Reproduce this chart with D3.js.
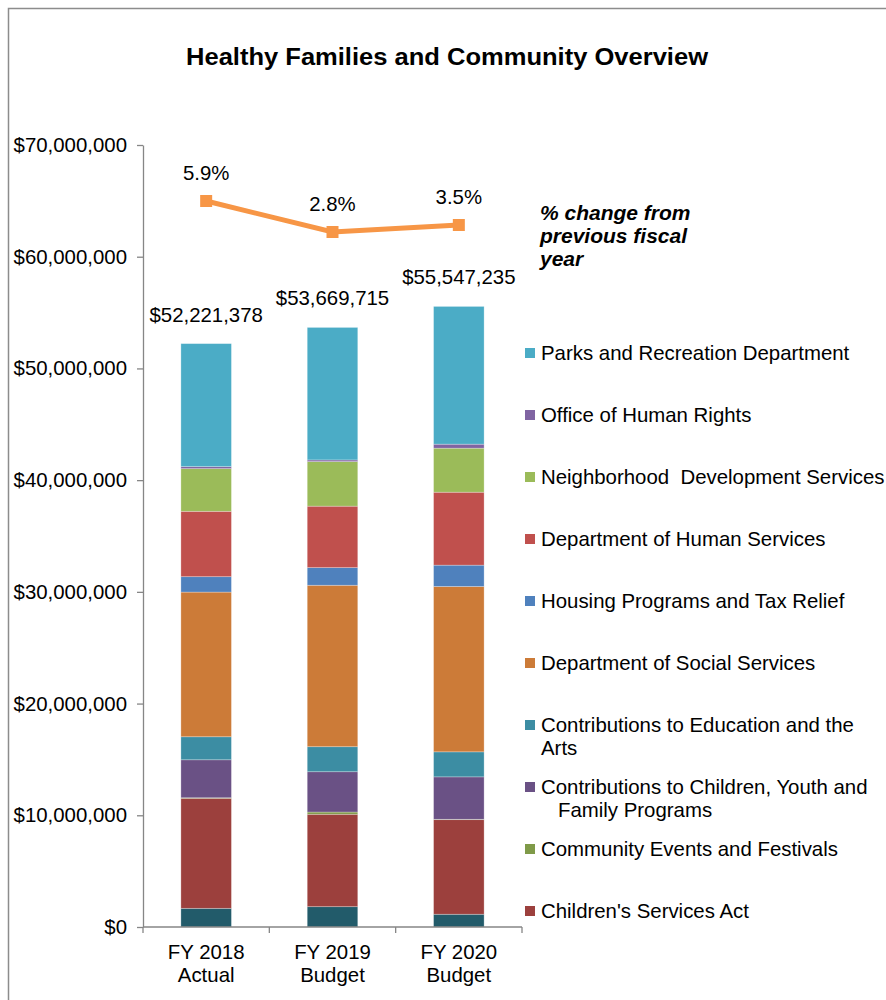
<!DOCTYPE html>
<html>
<head>
<meta charset="utf-8">
<script src="https://cdn.jsdelivr.net/npm/d3@7"></script>
<style>
  body { margin: 0; background: #fff; }
  svg text { font-family: "Liberation Sans", Arial, sans-serif; fill: #000; }
  .axis path, .axis line { stroke: #868686; stroke-width: 1.3; }
  .axis text { font-size: 20.4px; }
</style>
</head>
<body>
<svg width="886" height="1000"></svg>
<script>
// categories on the x axis
const categories = ["FY 2018 Actual", "FY 2019 Budget", "FY 2020 Budget"];

// segment values in millions of dollars, stacked bottom to top
const healthDept = [1.67, 1.82, 1.14];
const childrensServicesAct = [9.85, 8.27, 8.47];
const communityEvents = [0.05, 0.20, 0.03];
const contribChildren = [3.40, 3.61, 3.80];
const contribEducation = [2.06, 2.24, 2.24];
const socialServices = [12.95, 14.45, 14.80];
const housingPrograms = [1.38, 1.58, 1.91];
const humanServices = [5.85, 5.50, 6.53];
const neighborhoodDev = [3.82, 3.99, 3.94];
const humanRights = [0.18, 0.15, 0.36];
const parksRec = [11.01, 11.86, 12.33];

// bar totals and the % change line
const totals = [52221378, 53669715, 55547235];
const pctChange = [5.9, 2.8, 3.5];

const yTicks = [0, 10000000, 20000000, 30000000, 40000000, 50000000, 60000000, 70000000];

const series = [
    {key: "Health", name: "", values: healthDept, color: "#225b6a", legend: false},
    {key: "CSA", name: "Children's Services Act", values: childrensServicesAct, color: "#9c403d", legend: true},
    {key: "Events", name: "Community Events and Festivals", values: communityEvents, color: "#7f9a48", legend: true},
    {key: "Children", name: "Contributions to Children, Youth and\n\u00a0\u00a0\u00a0Family Programs", values: contribChildren, color: "#6a5185", legend: true},
    {key: "Education", name: "Contributions to Education and the\nArts", values: contribEducation, color: "#3c8da3", legend: true},
    {key: "Social", name: "Department of Social Services", values: socialServices, color: "#cc7b38", legend: true},
    {key: "Housing", name: "Housing Programs and Tax Relief", values: housingPrograms, color: "#4f81bd", legend: true},
    {key: "HumanSvc", name: "Department of Human Services", values: humanServices, color: "#c0504d", legend: true},
    {key: "NDS", name: "Neighborhood  Development Services", values: neighborhoodDev, color: "#9bbb59", legend: true},
    {key: "Rights", name: "Office of Human Rights", values: humanRights, color: "#8064a2", legend: true},
    {key: "Parks", name: "Parks and Recreation Department", values: parksRec, color: "#4bacc6", legend: true}
];

const svg = d3.select("svg");

// outer chart frame
svg.append("rect")
    .attr("x", 8.5).attr("y", 8.5)
    .attr("width", 900).attr("height", 1010)
    .attr("fill", "none")
    .attr("stroke", "#8c8c8c")
    .attr("stroke-width", 1.5);

const plotLeft = 143, plotRight = 522, plotTop = 145, plotBottom = 927;

const x = d3.scaleBand()
    .domain(categories)
    .range([plotLeft, plotRight])
    .padding(0);

const barW = x.bandwidth() * 0.4;

const y = d3.scaleLinear()
    .domain([0, 70000000])
    .range([plotBottom, plotTop]);

// hidden secondary axis for the % change line
const yPct = d3.scaleLinear()
    .domain([-66.7, 11.5])
    .range([plotBottom, plotTop]);

// stacked data
const rows = categories.map((c, i) => {
    const r = {cat: c};
    series.forEach(s => r[s.key] = s.values[i] * 1e6);
    return r;
});
const stacked = d3.stack().keys(series.map(s => s.key))(rows);

svg.append("g")
    .selectAll("g")
    .data(stacked)
    .join("g")
    .attr("fill", (d, i) => series[i].color)
    .selectAll("rect")
    .data(d => d)
    .join("rect")
    .attr("x", d => x(d.data.cat) + (x.bandwidth() - barW) / 2)
    .attr("y", d => y(d[1]))
    .attr("width", barW)
    .attr("height", d => y(d[0]) - y(d[1]))
    .attr("stroke", "rgba(255,255,255,0.35)")
    .attr("stroke-width", 0.8);

// y axis
svg.append("g")
    .attr("class", "axis")
    .attr("transform", "translate(" + plotLeft + ",0)")
    .call(d3.axisLeft(y)
        .tickValues(yTicks)
        .tickSize(6)
        .tickSizeOuter(0)
        .tickPadding(10)
        .tickFormat(d => "$" + d3.format(",")(d)));

// x axis: line with ticks on category boundaries
const xAxis = svg.append("g").attr("class", "axis");
xAxis.append("line")
    .attr("x1", plotLeft).attr("x2", plotRight)
    .attr("y1", plotBottom).attr("y2", plotBottom);
xAxis.selectAll("line.tick")
    .data(categories.map(c => x(c)).concat([plotRight]))
    .join("line")
    .attr("class", "tick")
    .attr("x1", d => d).attr("x2", d => d)
    .attr("y1", plotBottom).attr("y2", plotBottom + 6);

const xLabels = svg.append("g")
    .selectAll("text")
    .data(categories)
    .join("text")
    .attr("text-anchor", "middle")
    .attr("font-size", 20.4)
    .attr("x", d => x(d) + x.bandwidth() / 2)
    .attr("y", plotBottom + 32);
xLabels.append("tspan")
    .text(d => d.split(" ").slice(0, 2).join(" "));
xLabels.append("tspan")
    .attr("x", d => x(d) + x.bandwidth() / 2)
    .attr("dy", 23)
    .text(d => d.split(" ")[2]);

// total labels above bars
svg.append("g")
    .selectAll("text")
    .data(totals)
    .join("text")
    .attr("text-anchor", "middle")
    .attr("font-size", 20.4)
    .attr("x", (d, i) => x(categories[i]) + x.bandwidth() / 2)
    .attr("y", d => y(d) - 22)
    .text(d => "$" + d3.format(",")(d));

// % change line
const line = d3.line()
    .x((d, i) => x(categories[i]) + x.bandwidth() / 2)
    .y(d => yPct(d));

svg.append("path")
    .datum(pctChange)
    .attr("d", line)
    .attr("fill", "none")
    .attr("stroke", "#f79646")
    .attr("stroke-width", 5);

svg.append("g")
    .selectAll("rect")
    .data(pctChange)
    .join("rect")
    .attr("x", (d, i) => x(categories[i]) + x.bandwidth() / 2 - 6)
    .attr("y", d => yPct(d) - 6)
    .attr("width", 12)
    .attr("height", 12)
    .attr("fill", "#f79646");

svg.append("g")
    .selectAll("text")
    .data(pctChange)
    .join("text")
    .attr("text-anchor", "middle")
    .attr("font-size", 20.4)
    .attr("x", (d, i) => x(categories[i]) + x.bandwidth() / 2)
    .attr("y", d => yPct(d) - 21)
    .text(d => d.toFixed(1) + "%");

// line caption
const caption = svg.append("text")
    .attr("x", 540)
    .attr("y", 220)
    .attr("font-size", 21)
    .attr("font-weight", "bold")
    .attr("font-style", "italic");
["% change from", "previous fiscal", "year"].forEach((t, i) => {
    caption.append("tspan")
        .attr("x", 540)
        .attr("dy", i == 0 ? 0 : 23)
        .text(t);
});

// title
svg.append("text")
    .attr("x", 447)
    .attr("y", 65)
    .attr("text-anchor", "middle")
    .attr("font-size", 23.5)
    .attr("font-weight", "bold")
    .attr("textLength", 522)
    .attr("lengthAdjust", "spacingAndGlyphs")
    .text("Healthy Families and Community Overview");

// legend, top item is the top of the stack
const legendItems = series.filter(s => s.legend).reverse();
const legend = svg.append("g")
    .selectAll("g")
    .data(legendItems)
    .join("g")
    .attr("transform", (d, i) => "translate(525," + (360 + i * 62) + ")");

legend.append("rect")
    .attr("x", 0)
    .attr("y", -12)
    .attr("width", 10)
    .attr("height", 10)
    .attr("fill", d => d.color);

legend.append("text")
    .attr("font-size", 20.4)
    .style("white-space", "pre")
    .each(function(d) {
        const t = d3.select(this);
        d.name.split("\n").forEach((part, i) => {
            t.append("tspan")
                .attr("x", 16)
                .attr("y", i * 23)
                .text(part);
        });
    });
</script>
</body>
</html>
